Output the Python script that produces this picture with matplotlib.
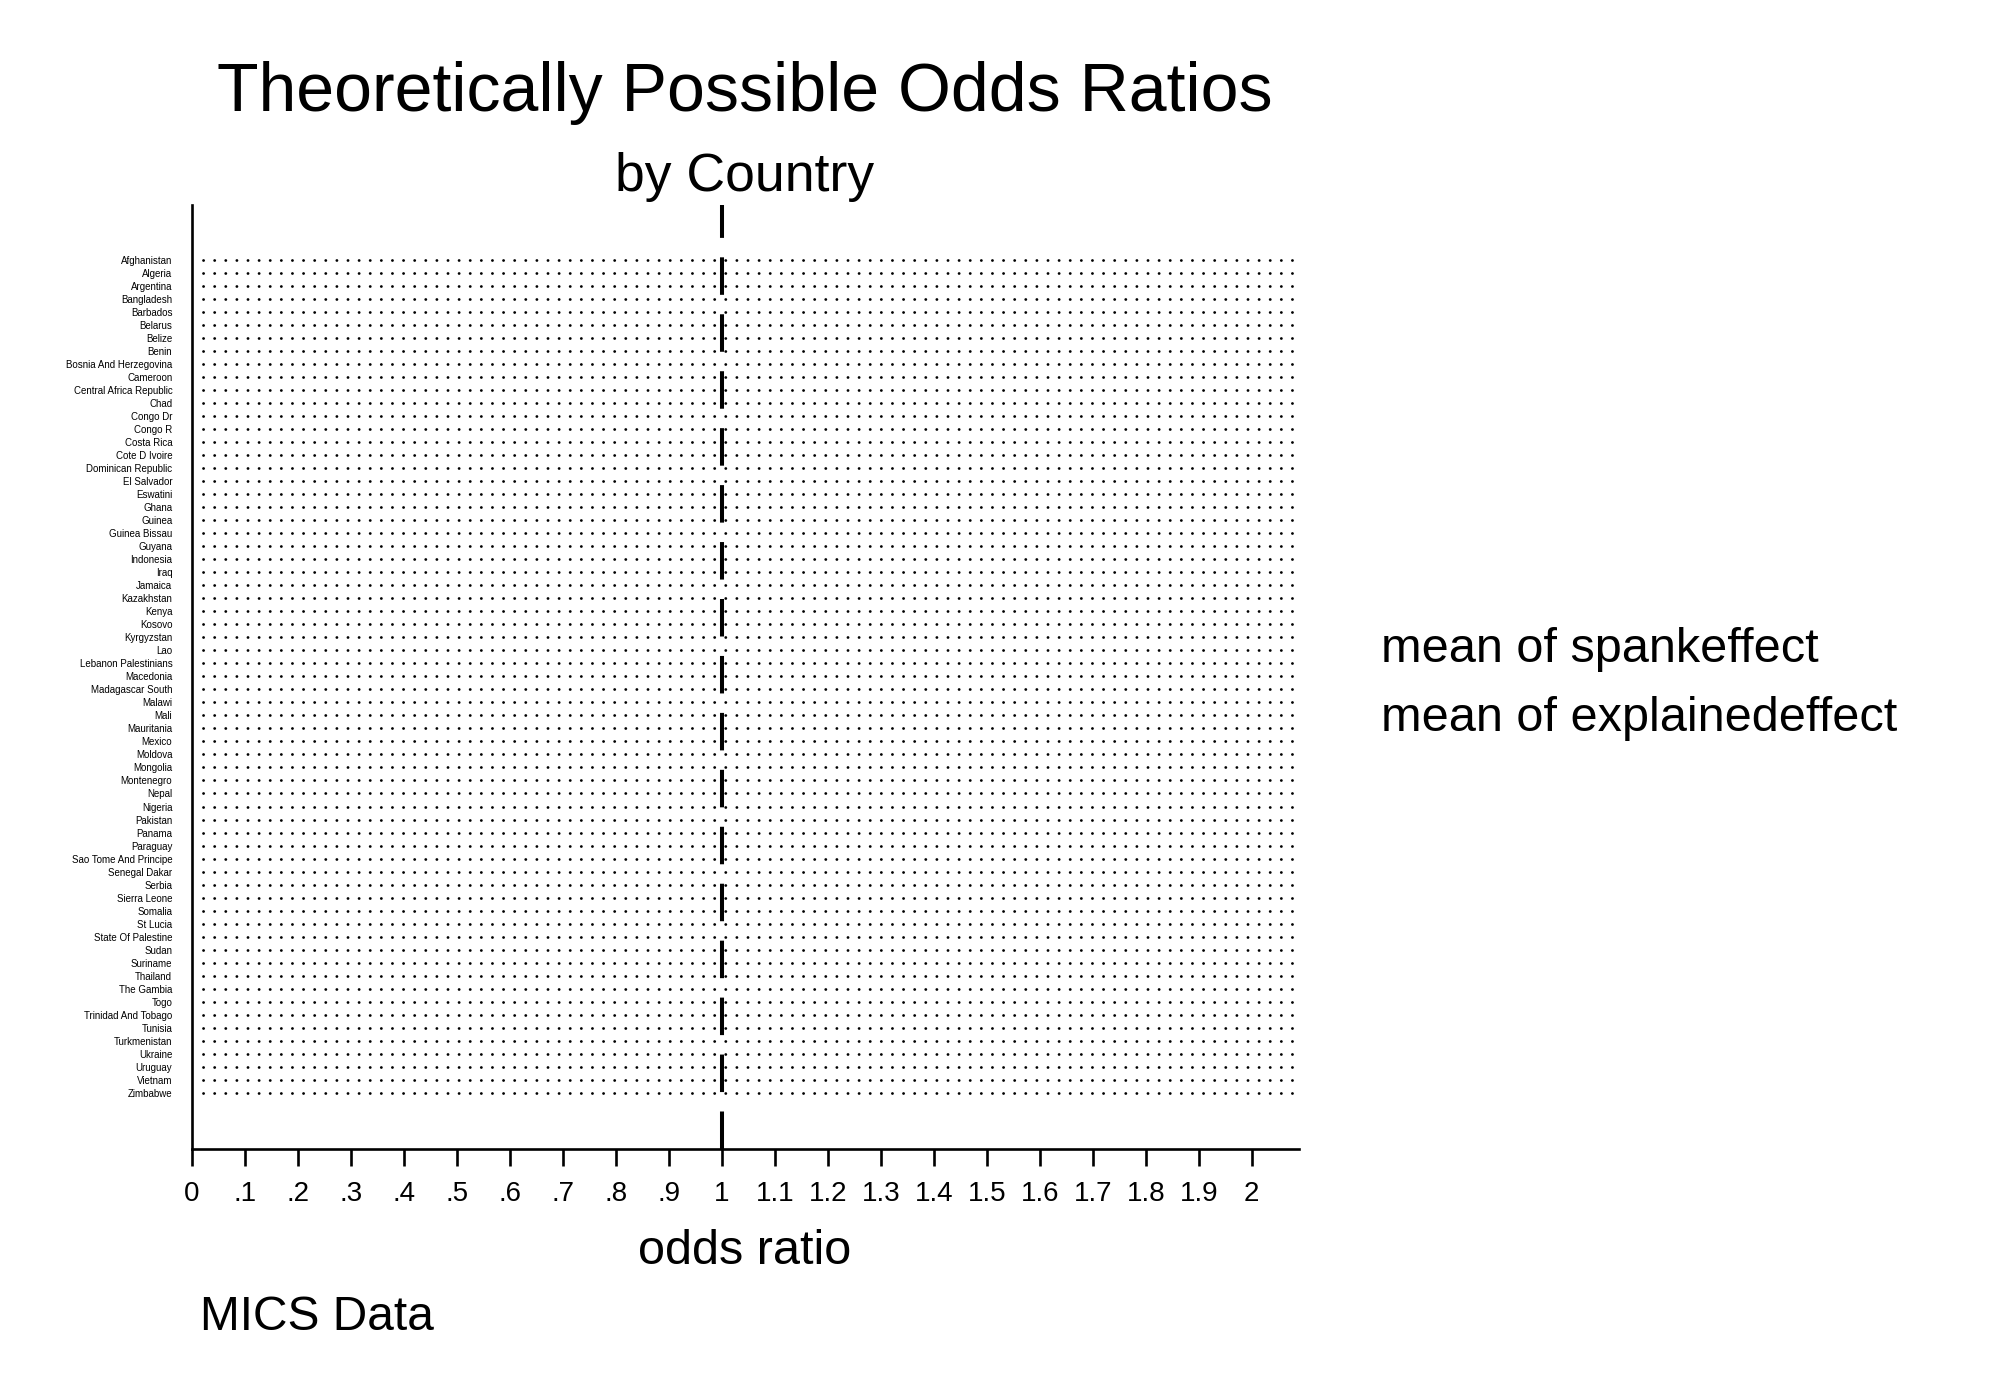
import numpy as np
import matplotlib
matplotlib.use("Agg")
import matplotlib.pyplot as plt
from matplotlib.lines import Line2D

plt.rcParams['font.family'] = ['Liberation Sans', 'DejaVu Sans']
plt.rcParams['lines.scale_dashes'] = False

countries = [
    "Afghanistan", "Algeria", "Argentina", "Bangladesh", "Barbados", "Belarus",
    "Belize", "Benin", "Bosnia And Herzegovina", "Cameroon", "Central Africa Republic",
    "Chad", "Congo Dr", "Congo R", "Costa Rica", "Cote D Ivoire", "Dominican Republic",
    "El Salvador", "Eswatini", "Ghana", "Guinea", "Guinea Bissau", "Guyana",
    "Indonesia", "Iraq", "Jamaica", "Kazakhstan", "Kenya", "Kosovo", "Kyrgyzstan",
    "Lao", "Lebanon Palestinians", "Macedonia", "Madagascar South", "Malawi", "Mali",
    "Mauritania", "Mexico", "Moldova", "Mongolia", "Montenegro", "Nepal", "Nigeria",
    "Pakistan", "Panama", "Paraguay", "Sao Tome And Principe", "Senegal Dakar",
    "Serbia", "Sierra Leone", "Somalia", "St Lucia", "State Of Palestine", "Sudan",
    "Suriname", "Thailand", "The Gambia", "Togo", "Trinidad And Tobago", "Tunisia",
    "Turkmenistan", "Ukraine", "Uruguay", "Vietnam", "Zimbabwe",
]
# no values are visible in the chart: both series are missing for every country
spankeffect = [np.nan] * len(countries)
explainedeffect = [np.nan] * len(countries)
series_labels = ["mean of spankeffect", "mean of explainedeffect"]

xticks = [0, 0.1, 0.2, 0.3, 0.4, 0.5, 0.6, 0.7, 0.8, 0.9, 1.0,
          1.1, 1.2, 1.3, 1.4, 1.5, 1.6, 1.7, 1.8, 1.9, 2.0]
xtick_labels = ["0", ".1", ".2", ".3", ".4", ".5", ".6", ".7", ".8", ".9", "1",
                "1.1", "1.2", "1.3", "1.4", "1.5", "1.6", "1.7", "1.8", "1.9", "2"]
ref_line = 1.0

W, H = 2000, 1400
fig = plt.figure(figsize=(W / 100, H / 100), dpi=100)
ax_left, ax_right, ax_top, ax_bottom = 191.7, 1299, 205, 1148.7
ax = fig.add_axes([ax_left / W, 1 - ax_bottom / H,
                   (ax_right - ax_left) / W, (ax_bottom - ax_top) / H])

ypos = np.arange(len(countries))
# dotted row guide lines
ax.hlines(ypos, 0.021, 2.077, colors='black', linewidth=2.0,
          linestyles=[(0, (0.1, 7.9))], capstyle='round')
for s in ax.collections:
    s.set_capstyle('round')

h1, = ax.plot(spankeffect, ypos, 'o', color='#1a476f')
h2, = ax.plot(explainedeffect, ypos, 'o', color='#90353b')

ax.axvline(ref_line, color='black', linewidth=2.9, dashes=(27, 14))

ax.set_xlim(0, (ax_right - ax_left) / 530)
ax.set_ylim(len(countries) - 1 + 4.30, -4.23)

ax.set_yticks(ypos)
ax.set_yticklabels(countries, fontsize=7)
ax.tick_params(axis='y', length=0, pad=14)

ax.set_xticks(xticks)
ax.set_xticklabels(xtick_labels, fontsize=20)
ax.tick_params(axis='x', length=12.2, width=1.9, pad=11)

for side in ['top', 'right']:
    ax.spines[side].set_visible(False)
for side in ['left', 'bottom']:
    ax.spines[side].set_linewidth(1.9)

# titles and labels
fig.text(745 / W, 1 - 111 / H, "Theoretically Possible Odds Ratios",
         fontsize=49, ha='center', va='baseline')
fig.text(745 / W, 1 - 191 / H, "by Country",
         fontsize=38.5, ha='center', va='baseline')
fig.text(745 / W, 1 - 1264 / H, "odds ratio",
         fontsize=35, ha='center', va='baseline')
fig.text(200 / W, 1 - 1330 / H, "MICS Data",
         fontsize=34.5, ha='left', va='baseline')

# legend without symbols
leg = fig.legend([Line2D([], [], linestyle='none'), Line2D([], [], linestyle='none')],
                 series_labels, loc='center left',
                 bbox_to_anchor=(1381 / W, 1 - 684 / H),
                 frameon=False, handlelength=0, handletextpad=0, borderpad=0,
                 borderaxespad=0, labelspacing=0.5, fontsize=35)

fig.savefig("out.png", dpi=100, facecolor='white')
